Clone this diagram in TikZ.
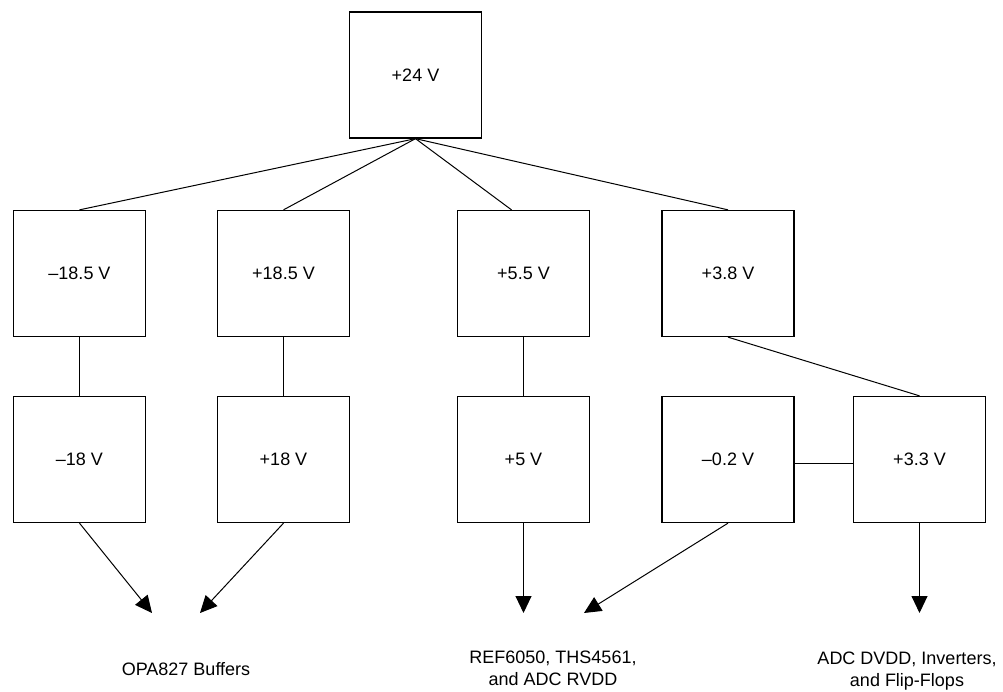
\documentclass[tikz,border=0pt]{standalone}
\usepackage{fontspec}
\setmainfont{Liberation Sans}
\usepackage{tikz}
\usetikzlibrary{arrows.meta,calc}

\tikzset{
  rail/.style={draw, line width=1.3pt, minimum width=132pt, minimum height=126pt,
    inner sep=0pt, font=\fontsize{18}{22}\selectfont},
  sink/.style={align=center, font=\fontsize{18}{22}\selectfont},
  wire/.style={line width=1pt},
}

\begin{document}
\begin{tikzpicture}[x=1pt, y=-1pt, >={Triangle[length=17pt, width=16pt]}]
  \useasboundingbox (0,0) rectangle (1003,692);
  % supply
  \node[rail] (v24) at (415.5,75) {+24 V};
  % first stage
  \node[rail] (m185) at (79.5,273.5) {–18.5 V};
  \node[rail] (p185) at (283.5,273.5) {+18.5 V};
  \node[rail] (p55) at (523.5,273.5) {+5.5 V};
  \node[rail] (p38) at (728,273.5) {+3.8 V};
  % second stage
  \node[rail] (m18) at (79.5,459.5) {–18 V};
  \node[rail] (p18) at (283.5,459.5) {+18 V};
  \node[rail] (p5) at (523.5,459.5) {+5 V};
  \node[rail] (m02) at (728,459.5) {–0.2 V};
  \node[rail] (p33) at (919.5,459.5) {+3.3 V};
  % loads
  \node[sink] (opa) at (186,669) {OPA827 Buffers};
  \node[sink] (ref) at (553,668) {REF6050, THS4561,\\and ADC RVDD};
  \node[sink] (dig) at (907,671) {ADC DVDD, Inverters,\\and Flip-Flops};
  \coordinate (tipA) at (152,613);
  \coordinate (tipB) at (200,613);
  \coordinate (tipC) at (523.5,613);
  \coordinate (tipD) at (584,613);
  \coordinate (tipE) at (919.5,613);

  \draw[wire] (v24.south) -- (m185.north);
  \draw[wire] (v24.south) -- (p185.north);
  \draw[wire] (v24.south) -- ($(p55.north west)!0.41!(p55.north east)$);
  \draw[wire] (v24.south) -- (p38.north);
  \draw[wire] (m185) -- (m18);
  \draw[wire] (p185) -- (p18);
  \draw[wire] (p55) -- (p5);
  \draw[wire] (p38.south) -- (p33.north);
  \draw[wire] ($(m02.east)+(0,3.5)$) -- ($(p33.west)+(0,3.5)$);

  \draw[wire,->] (m18.south) -- (tipA);
  \draw[wire,->] (p18.south) -- (tipB);
  \draw[wire,->] (p5.south) -- (tipC);
  \draw[wire,->] (m02.south) -- (tipD);
  \draw[wire,->] (p33.south) -- (tipE);
\end{tikzpicture}
\end{document}
